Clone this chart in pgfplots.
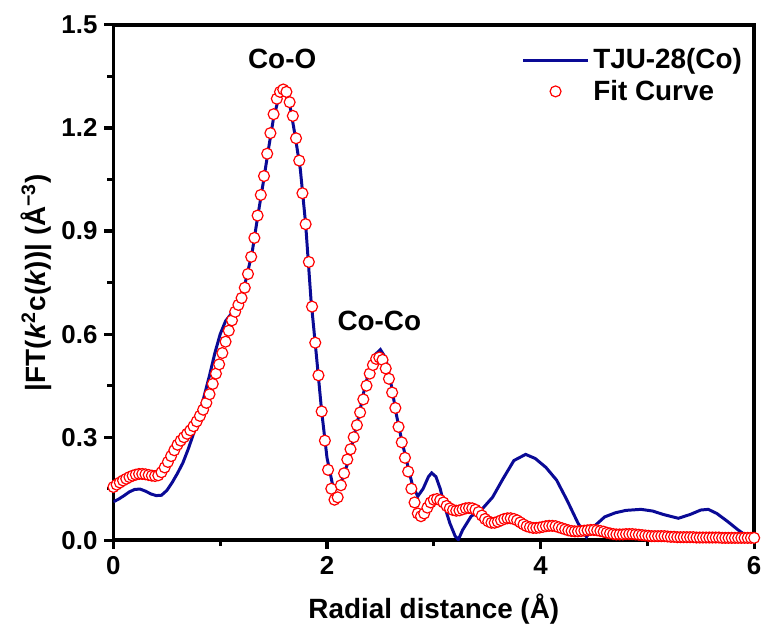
\documentclass[border=0pt]{standalone}
\usepackage{pgfplots}
\pgfplotsset{compat=1.18}
\usetikzlibrary{calc}
\usepackage{fontspec}
\setmainfont{Liberation Sans}
\definecolor{navyline}{RGB}{10,10,150}
\definecolor{fitred}{RGB}{255,0,0}

\begin{document}
\begin{tikzpicture}
\begin{axis}[
  scale only axis,
  width=322pt, height=259pt,
  xmin=0, xmax=6,
  ymin=0, ymax=1.5,
  xtick={0,2,4,6},
  ytick={0,0.3,0.6,0.9,1.2,1.5},
  minor x tick num=1,
  minor y tick num=1,
  tick align=outside,
  xtick pos=left, ytick pos=left,
  major tick length=4.5pt,
  minor tick length=3pt,
  axis line style={line width=1.8pt},
  every tick/.style={line width=1.6pt, black},
  /pgf/number format/assume math mode=true,
  tick label style={font=\fontsize{13}{15}\selectfont\bfseries},
  yticklabel style={/pgf/number format/fixed,
    /pgf/number format/fixed zerofill,
    /pgf/number format/precision=1},
  xlabel={Radial distance (Å)},
  ylabel={|FT(\textit{k}\textsuperscript{2}c(\textit{k}))| (Å\textsuperscript{−3})},
  label style={font=\fontsize{14}{16}\selectfont\bfseries},
  xlabel style={yshift=-3pt},
  ylabel style={yshift=-2pt},
  legend style={
    at={(rel axis cs:0.997,0.97)}, anchor=north east,
    draw=none, fill=none,
    font=\fontsize{14}{16}\selectfont\bfseries,
    cells={anchor=west},
    row sep=0pt
  },
  legend image code/.code={
    \draw[mark repeat=2,mark phase=2,#1]
      plot coordinates {(0cm,0cm) (0.57cm,0cm) (1.14cm,0cm)};
  },
]
% measured spectrum
\addplot[navyline, line width=1.5pt] coordinates {
(0.00,0.112) (0.05,0.120) (0.10,0.130) (0.15,0.141) (0.20,0.148)
(0.25,0.149) (0.30,0.143) (0.35,0.135) (0.40,0.130) (0.45,0.131)
(0.50,0.145) (0.55,0.168) (0.60,0.195) (0.65,0.225) (0.70,0.265)
(0.75,0.310) (0.80,0.360) (0.85,0.420) (0.90,0.480) (0.95,0.545)
(1.00,0.600) (1.05,0.638) (1.10,0.658) (1.15,0.675) (1.20,0.705)
(1.25,0.770) (1.30,0.840) (1.35,0.940) (1.40,1.035) (1.45,1.135)
(1.50,1.230) (1.55,1.290) (1.58,1.303) (1.61,1.300) (1.65,1.270)
(1.70,1.180) (1.75,1.080) (1.80,0.920) (1.85,0.700) (1.90,0.540)
(1.95,0.375) (2.00,0.240) (2.05,0.165) (2.08,0.148) (2.12,0.155)
(2.15,0.185) (2.20,0.230) (2.25,0.300) (2.30,0.365) (2.35,0.440)
(2.40,0.500) (2.45,0.540) (2.50,0.555) (2.55,0.530) (2.60,0.455)
(2.65,0.365) (2.70,0.290) (2.75,0.225) (2.80,0.160) (2.85,0.128)
(2.90,0.150) (2.95,0.185) (2.98,0.196) (3.02,0.185) (3.06,0.150)
(3.10,0.100) (3.15,0.050) (3.20,0.012) (3.23,0.002) (3.27,0.030)
(3.35,0.070) (3.45,0.090) (3.55,0.125) (3.65,0.180) (3.75,0.232)
(3.86,0.250) (3.95,0.238) (4.05,0.212) (4.15,0.175) (4.25,0.115)
(4.35,0.050) (4.43,0.010) (4.50,0.040) (4.60,0.068) (4.70,0.080)
(4.80,0.087) (4.94,0.090) (5.05,0.085) (5.15,0.075) (5.29,0.064)
(5.40,0.075) (5.50,0.088) (5.57,0.090) (5.65,0.078) (5.75,0.055)
(5.85,0.030) (5.94,0.010) (6.00,0.000)
};
\addlegendentry{TJU-28(Co)}

% fit
\addplot[only marks, mark=*, mark size=2.75pt,
  mark options={draw=fitred, fill=white, line width=0.6pt}] coordinates {
(0.00,0.155) (0.03,0.162) (0.06,0.168) (0.09,0.174) (0.12,0.179)
(0.15,0.184) (0.18,0.188) (0.21,0.191) (0.24,0.193) (0.27,0.193)
(0.30,0.192) (0.33,0.190) (0.36,0.188) (0.39,0.187) (0.42,0.189)
(0.45,0.198) (0.48,0.212) (0.51,0.228) (0.54,0.245) (0.57,0.262)
(0.60,0.278) (0.63,0.290) (0.66,0.300) (0.69,0.310) (0.72,0.320)
(0.75,0.332) (0.78,0.346) (0.81,0.362) (0.84,0.380) (0.87,0.400)
(0.90,0.425) (0.93,0.455) (0.96,0.485) (0.99,0.512) (1.02,0.545)
(1.05,0.578) (1.08,0.610) (1.11,0.640) (1.14,0.665) (1.17,0.685)
(1.20,0.705) (1.23,0.735) (1.26,0.775) (1.29,0.825) (1.32,0.880)
(1.35,0.945) (1.38,1.005) (1.41,1.060) (1.44,1.125) (1.47,1.185)
(1.50,1.240) (1.53,1.285) (1.56,1.305) (1.59,1.312) (1.62,1.305)
(1.65,1.275) (1.68,1.235) (1.71,1.170) (1.74,1.105) (1.77,1.010)
(1.80,0.920) (1.83,0.810) (1.86,0.680) (1.89,0.575) (1.92,0.480)
(1.95,0.375) (1.98,0.290) (2.01,0.205) (2.04,0.150) (2.07,0.118)
(2.10,0.125) (2.13,0.160) (2.16,0.195) (2.19,0.235) (2.22,0.265)
(2.25,0.300) (2.28,0.335) (2.31,0.372) (2.34,0.410) (2.37,0.450)
(2.40,0.485) (2.43,0.510) (2.46,0.528) (2.49,0.532) (2.52,0.525)
(2.55,0.500) (2.58,0.470) (2.61,0.430) (2.64,0.385) (2.67,0.330)
(2.70,0.285) (2.73,0.240) (2.76,0.200) (2.79,0.150) (2.82,0.110)
(2.85,0.078) (2.88,0.070) (2.91,0.078) (2.94,0.095) (2.97,0.110)
(3.00,0.118) (3.03,0.120) (3.06,0.117) (3.09,0.110) (3.12,0.100)
(3.15,0.093) (3.18,0.088) (3.21,0.086) (3.24,0.087) (3.27,0.090)
(3.30,0.093) (3.33,0.094) (3.36,0.093) (3.39,0.089) (3.42,0.082)
(3.45,0.072) (3.48,0.062) (3.51,0.055) (3.54,0.051) (3.57,0.051)
(3.60,0.054) (3.63,0.058) (3.66,0.062) (3.69,0.064) (3.72,0.064)
(3.75,0.062) (3.78,0.058) (3.81,0.052) (3.84,0.046) (3.87,0.041)
(3.90,0.038) (3.93,0.036) (3.96,0.036) (3.99,0.037) (4.02,0.039)
(4.05,0.041) (4.08,0.042) (4.11,0.042) (4.14,0.041) (4.17,0.038)
(4.20,0.035) (4.23,0.032) (4.26,0.029) (4.29,0.027) (4.32,0.026)
(4.35,0.026) (4.38,0.027) (4.41,0.028) (4.44,0.029) (4.47,0.030)
(4.50,0.030) (4.53,0.029) (4.56,0.027) (4.59,0.025) (4.62,0.022)
(4.65,0.020) (4.68,0.018) (4.71,0.017) (4.74,0.017) (4.77,0.017)
(4.80,0.018) (4.83,0.018) (4.86,0.018) (4.89,0.017) (4.92,0.016)
(4.95,0.015) (4.98,0.014) (5.01,0.013) (5.04,0.012) (5.07,0.012)
(5.10,0.012) (5.13,0.012) (5.16,0.012) (5.19,0.011) (5.22,0.010)
(5.25,0.010) (5.28,0.009) (5.31,0.009) (5.34,0.009) (5.37,0.009)
(5.40,0.009) (5.43,0.009) (5.46,0.008) (5.49,0.008) (5.52,0.008)
(5.55,0.008) (5.58,0.008) (5.61,0.008) (5.64,0.008) (5.67,0.008)
(5.70,0.007) (5.73,0.007) (5.76,0.007) (5.79,0.007) (5.82,0.007)
(5.85,0.007) (5.88,0.007) (5.91,0.007) (5.94,0.007) (5.97,0.007)
(6.00,0.007)
};
\addlegendentry{Fit Curve}

\node[font=\fontsize{14}{16}\selectfont\bfseries] at (axis cs:1.58,1.40) {Co-O};
\node[font=\fontsize{14}{16}\selectfont\bfseries] at (axis cs:2.49,0.637) {Co-Co};
\end{axis}
% margins as in the reference
\path ($(current axis.south west)+(-57pt,-44pt)$) rectangle ($(current axis.north east)+(5pt,12.5pt)$);
\end{tikzpicture}
\end{document}
